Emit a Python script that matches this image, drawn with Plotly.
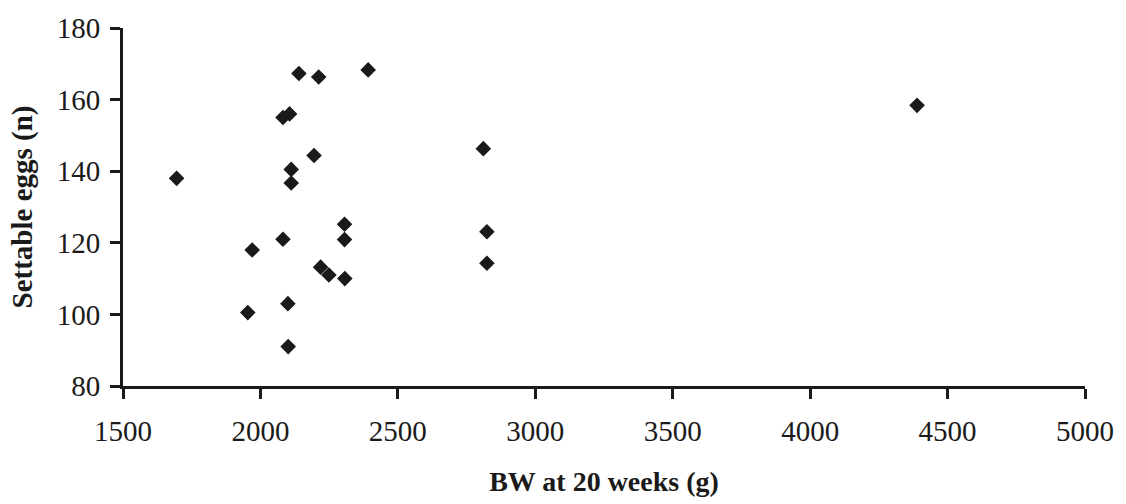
import plotly.graph_objects as go

# Body weight at 20 weeks (g) and number of settable eggs per bird
bw_20wk = [1695, 1954, 1970, 2082, 2082, 2100, 2101, 2106, 2112, 2112,
           2140, 2195, 2212, 2219, 2249, 2306, 2306, 2307, 2392, 2811,
           2824, 2824, 4389]
settable_eggs = [138, 100.5, 118, 155, 121, 103, 91, 156, 140.5, 136.7,
                 167.3, 144.4, 166.3, 113.2, 111, 125.2, 120.9, 110, 168.3, 146.3,
                 123.1, 114.3, 158.4]

x_ticks = [1500, 2000, 2500, 3000, 3500, 4000, 4500, 5000]
y_ticks = [80, 100, 120, 140, 160, 180]

ink = "#1a1a1a"
serif = "Liberation Serif, Times New Roman, serif"

fig = go.Figure(
    go.Scatter(
        x=bw_20wk,
        y=settable_eggs,
        mode="markers",
        marker=dict(symbol="diamond", size=12, color=ink, line=dict(width=0)),
        showlegend=False,
    )
)

axis_common = dict(
    showgrid=False,
    zeroline=False,
    showline=True,
    linecolor=ink,
    linewidth=3,
    ticks="outside",
    ticklen=10,
    tickwidth=3,
    tickcolor=ink,
    tickfont=dict(family=serif, size=29, color=ink),
)

fig.update_xaxes(
    range=[1500, 5000],
    tickvals=x_ticks,
    ticktext=[str(v) for v in x_ticks],
    title=dict(text="<b>BW at 20 weeks (g)</b>",
               font=dict(family=serif, size=28, color=ink), standoff=26),
    ticklabelstandoff=7,
    **axis_common,
)
fig.update_yaxes(
    range=[80, 180],
    tickvals=y_ticks,
    ticktext=[str(v) for v in y_ticks],
    title=dict(text="<b>Settable eggs (n)</b>",
               font=dict(family=serif, size=29, color=ink), standoff=16),
    ticklabelstandoff=4,
    **axis_common,
)

fig.update_layout(
    width=1126,
    height=504,
    margin=dict(l=123, r=39, t=24, b=116),
    paper_bgcolor="white",
    plot_bgcolor="white",
)

fig.write_html("out.html")
